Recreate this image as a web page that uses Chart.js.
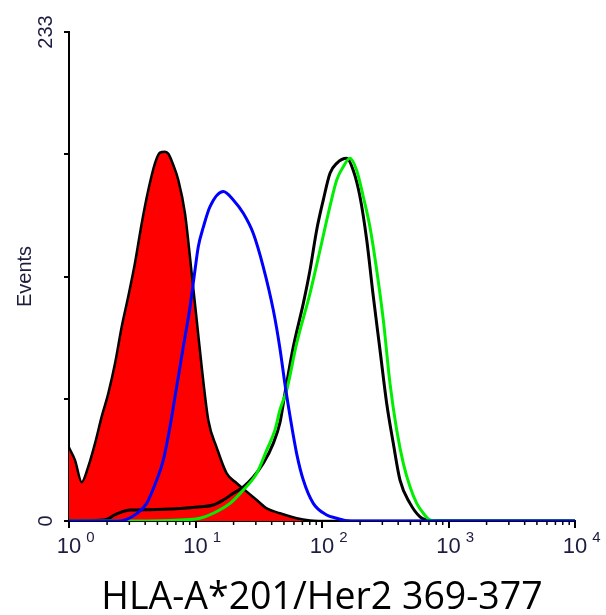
<!DOCTYPE html>
<html>
<head>
<meta charset="utf-8">
<script src="https://cdn.jsdelivr.net/npm/chart.js@4"></script>
<style>
  html, body { margin: 0; padding: 0; background: #ffffff; }
  #wrap { width: 606px; height: 615px; }
</style>
</head>
<body>
<div id="wrap"><canvas id="c" width="606" height="615"></canvas></div>
<script>
// ---- data (fluorescence intensity on log axis, event counts) ----
const decades = [1, 10, 100, 1000, 10000];
const xTickBase = ['10', '10', '10', '10', '10'];
const xTickExp = ['0', '1', '2', '3', '4'];
const yTicks = [0, 58.25, 116.5, 174.75, 233];
const yTickLabels = ['0', '', '', '', '233'];
const xTitle = 'HLA-A*201/Her2 369-377';
const yTitle = 'Events';

// filled red histogram (control)
const redX = [1.0, 1.115, 1.26, 1.42, 1.606, 1.813, 2.045, 2.31, 2.61, 2.94, 3.32, 3.756, 4.236, 4.78, 5.24, 5.74, 6.10, 6.64, 7.31, 8.26, 9.33, 10.22, 11.19, 12.63, 14.71, 17.64, 21.17, 25.39, 30.46, 36.54, 46.56, 63.1, 80.4, 115.7, 10000];
const redY = [35, 29, 18.5, 25.9, 37, 49.7, 60.8, 75, 92.6, 107, 122.8, 141.8, 157.7, 170.4, 175.5, 176, 175, 170, 162.5, 146.6, 118, 95.8, 73.5, 48, 35, 22.7, 18, 14, 10, 6, 3.7, 1.3, 0.3, 0, 0];

// black histogram
const blackX = [1, 1.76, 2.03, 2.23, 2.53, 3.03, 4.37, 7.54, 10.85, 13.83, 16.59, 19.90, 23.88, 28.64, 34.36, 41.21, 46.56, 51.0, 59.31, 71.16, 80.4, 90.8, 102.4, 115.7, 130.7, 156.8, 176.8, 199.7, 225.6, 254.4, 287.4, 324.7, 366.1, 413.6, 496.3, 595.4, 672.6, 782, 10000];
const blackY = [0, 0.3, 1, 2.5, 4, 5.2, 5.4, 6, 6.8, 7.6, 10, 13.2, 16.3, 21, 27.5, 37, 47, 61, 83, 103.7, 119.6, 138.7, 153, 165.7, 170.4, 172.8, 167, 154.5, 134, 107, 81.5, 56, 37, 19.5, 8.4, 2, 0.5, 0, 0];

// green histogram
const greenX = [1, 3.43, 7.54, 10.85, 13.83, 18.74, 23.88, 30.46, 36.54, 42.5, 46.56, 52.6, 63.1, 80.4, 96.4, 115.7, 130.7, 147.4, 166.4, 188.1, 212.1, 239.6, 270.6, 305.2, 344.7, 389.5, 439.3, 496.3, 560.8, 632.3, 714.4, 856.6, 10000];
const greenY = [0, 0, 0.5, 1.3, 3.7, 8.4, 14.8, 22.7, 33.8, 43.4, 53, 62.4, 84.7, 108.5, 129, 150, 162.5, 168.8, 172.8, 167, 154.5, 140, 119.6, 95.8, 65.6, 43.4, 27.5, 16.3, 8.4, 3.7, 0.5, 0, 0];

// blue histogram
const blueX = [1, 2.4, 2.86, 3.43, 4.11, 4.935, 5.566, 6.29, 7.10, 8.01, 9.05, 9.91, 10.52, 11.53, 13.02, 16.59, 19.90, 23.88, 28.64, 34.36, 41.21, 46.56, 51.0, 55.85, 63.1, 71.16, 85.3, 108.9, 130.7, 152, 199.7, 10000];
const blueY = [0, 0, 0.8, 3.5, 8.4, 19.5, 29, 45, 64, 83, 102, 119.6, 130.7, 140, 149.8, 157, 153, 146.6, 137, 121, 100.5, 82, 65, 50, 32, 19.5, 8.4, 2.9, 1.3, 0.3, 0, 0];

// ---- helpers ----
function pts(xs, ys) { return xs.map((x, i) => ({ x: x, y: ys[i] })); }
function isDecade(v) { const l = Math.log10(v); return Math.abs(l - Math.round(l)) < 1e-9; }
const xTickValues = [];
decades.forEach((d, i) => {
  if (i === decades.length - 1) { xTickValues.push(d); return; }
  for (let m = 1; m <= 9; m++) xTickValues.push(d * m);
});

const TICK_FONT = 'Liberation Sans, Arial, sans-serif';
const TICK_COLOR = '#1c1c40';

// minor x ticks (shorter) and exponents of the decade labels
const axisExtras = {
  id: 'axisExtras',
  afterDraw(chart) {
    const xs = chart.scales.x, ctx = chart.ctx;
    ctx.save();
    ctx.strokeStyle = '#000';
    ctx.lineWidth = 1.5;
    xs.ticks.forEach(t => {
      if (!isDecade(t.value)) {
        const px = xs.getPixelForValue(t.value);
        ctx.beginPath();
        ctx.moveTo(px, xs.top);
        ctx.lineTo(px, xs.top + 4);
        ctx.stroke();
      }
    });
    ctx.font = '22px ' + TICK_FONT;
    const baseW = ctx.measureText('10').width;
    ctx.fillStyle = TICK_COLOR;
    ctx.textBaseline = 'top';
    ctx.textAlign = 'left';
    ctx.font = '15px ' + TICK_FONT;
    decades.forEach((d, i) => {
      const px = xs.getPixelForValue(d);
      ctx.fillText(xTickExp[i], px + baseW / 2 + 5, xs.top + 9);
    });
    ctx.restore();
  }
};

const lineDs = (label, xs, ys, color) => ({
  label: label,
  data: pts(xs, ys),
  borderColor: color,
  borderWidth: 3,
  pointRadius: 0,
  fill: false,
  cubicInterpolationMode: 'monotone'
});

new Chart(document.getElementById('c'), {
  type: 'line',
  data: {
    datasets: [
      lineDs('blue', blueX, blueY, '#0000ff'),
      lineDs('green', greenX, greenY, '#00ee00'),
      lineDs('black', blackX, blackY, '#000000'),
      {
        label: 'red',
        data: pts(redX, redY),
        borderColor: '#000000',
        borderWidth: 2.5,
        backgroundColor: '#ff0000',
        pointRadius: 0,
        fill: 'origin',
        cubicInterpolationMode: 'monotone'
      }
    ]
  },
  options: {
    responsive: false,
    animation: false,
    layout: { padding: { left: 0, right: 31, top: 32, bottom: 0 } },
    plugins: { legend: { display: false }, tooltip: { enabled: false } },
    scales: {
      x: {
        type: 'logarithmic',
        min: 1,
        max: 10000,
        afterBuildTicks: s => { s.ticks = xTickValues.map(v => ({ value: v })); },
        afterFit: s => { s.height = 94; },
        grid: {
          display: true,
          drawOnChartArea: false,
          drawTicks: true,
          tickLength: 7,
          lineWidth: 2,
          tickColor: ctx => (ctx.tick && isDecade(ctx.tick.value)) ? '#000' : 'rgba(0,0,0,0)'
        },
        border: { display: true, color: '#000', width: 2 },
        ticks: {
          autoSkip: false,
          maxRotation: 0,
          minRotation: 0,
          padding: 6,
          color: TICK_COLOR,
          font: { family: TICK_FONT, size: 22 },
          callback: function (v) {
            const i = decades.indexOf(v);
            return i >= 0 ? xTickBase[i] : '';
          }
        },
        title: {
          display: true,
          text: xTitle,
          color: '#000',
          font: { family: 'Open Sans, sans-serif', size: 37.5 },
          padding: { top: 0, bottom: -6 }
        }
      },
      y: {
        type: 'linear',
        min: 0,
        max: 233,
        afterBuildTicks: s => { s.ticks = yTicks.map(v => ({ value: v })); },
        afterFit: s => { s.width = 69; },
        grid: {
          display: true,
          drawOnChartArea: false,
          drawTicks: true,
          tickLength: 5,
          lineWidth: 2,
          tickColor: '#000'
        },
        border: { display: true, color: '#000', width: 2 },
        ticks: {
          minRotation: 90,
          maxRotation: 90,
          crossAlign: 'center',
          padding: 1,
          color: TICK_COLOR,
          font: { family: TICK_FONT, size: 20 },
          callback: function (v, i) { return yTickLabels[i]; }
        },
        title: {
          display: true,
          text: yTitle,
          color: TICK_COLOR,
          font: { family: TICK_FONT, size: 20 },
          padding: { top: 13, bottom: 0 }
        }
      }
    }
  },
  plugins: [axisExtras]
});
</script>
</body>
</html>
